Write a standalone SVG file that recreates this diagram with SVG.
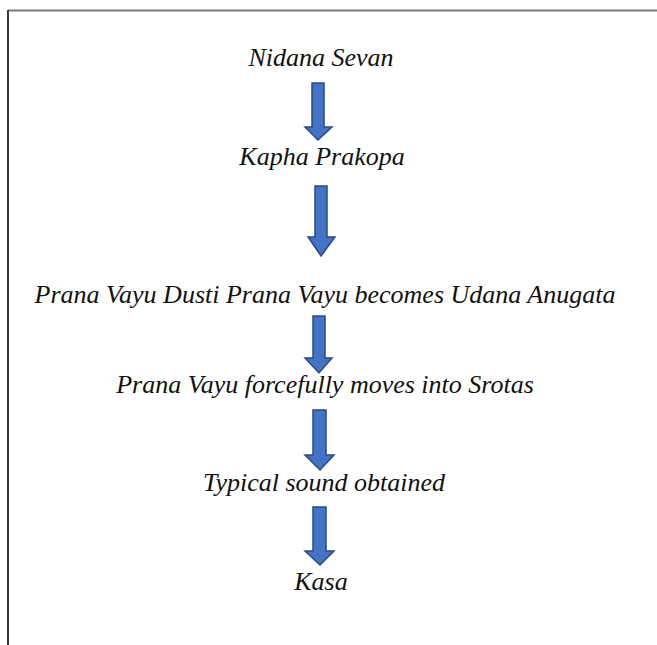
<svg xmlns="http://www.w3.org/2000/svg" width="657" height="645" viewBox="0 0 657 645">
<style>
.t{font-family:"Liberation Serif","Times New Roman",serif;font-style:italic;font-size:26px;fill:#111;text-anchor:middle}
.a{fill:#4472C4;stroke:#2B4A82;stroke-width:1.5;stroke-linejoin:miter}
</style>
<rect width="657" height="645" fill="#fff"/>
<line x1="8" y1="10.5" x2="657" y2="10.5" stroke="#7a7a7a" stroke-width="2"/>
<line x1="8" y1="10" x2="8" y2="645" stroke="#3a3a3a" stroke-width="2"/>
<g id="connectors">
<path class="a" d="M312 83 H324 V127 H332 L318 140 L305 127 H312 Z"/>
<path class="a" d="M315 186 H327 V237 H335 L321 256 L308 237 H315 Z"/>
<path class="a" d="M313 316 H325 V358 H332 L319 373 L305 358 H313 Z"/>
<path class="a" d="M313 410 H326 V455 H334 L320 470 L305 455 H313 Z"/>
<path class="a" d="M313 507 H326 V551 H334 L320 565 L305 551 H313 Z"/>
</g>
<g id="n1"><text class="t" x="321" y="66">Nidana Sevan</text></g>
<g id="n2"><text class="t" x="322" y="165">Kapha Prakopa</text></g>
<g id="n3"><text class="t" x="325" y="303">Prana Vayu Dusti Prana Vayu becomes Udana Anugata</text></g>
<g id="n4"><text class="t" x="325" y="393">Prana Vayu forcefully moves into Srotas</text></g>
<g id="n5"><text class="t" x="324" y="491">Typical sound obtained</text></g>
<g id="n6"><text class="t" x="321" y="590">Kasa</text></g>
</svg>
